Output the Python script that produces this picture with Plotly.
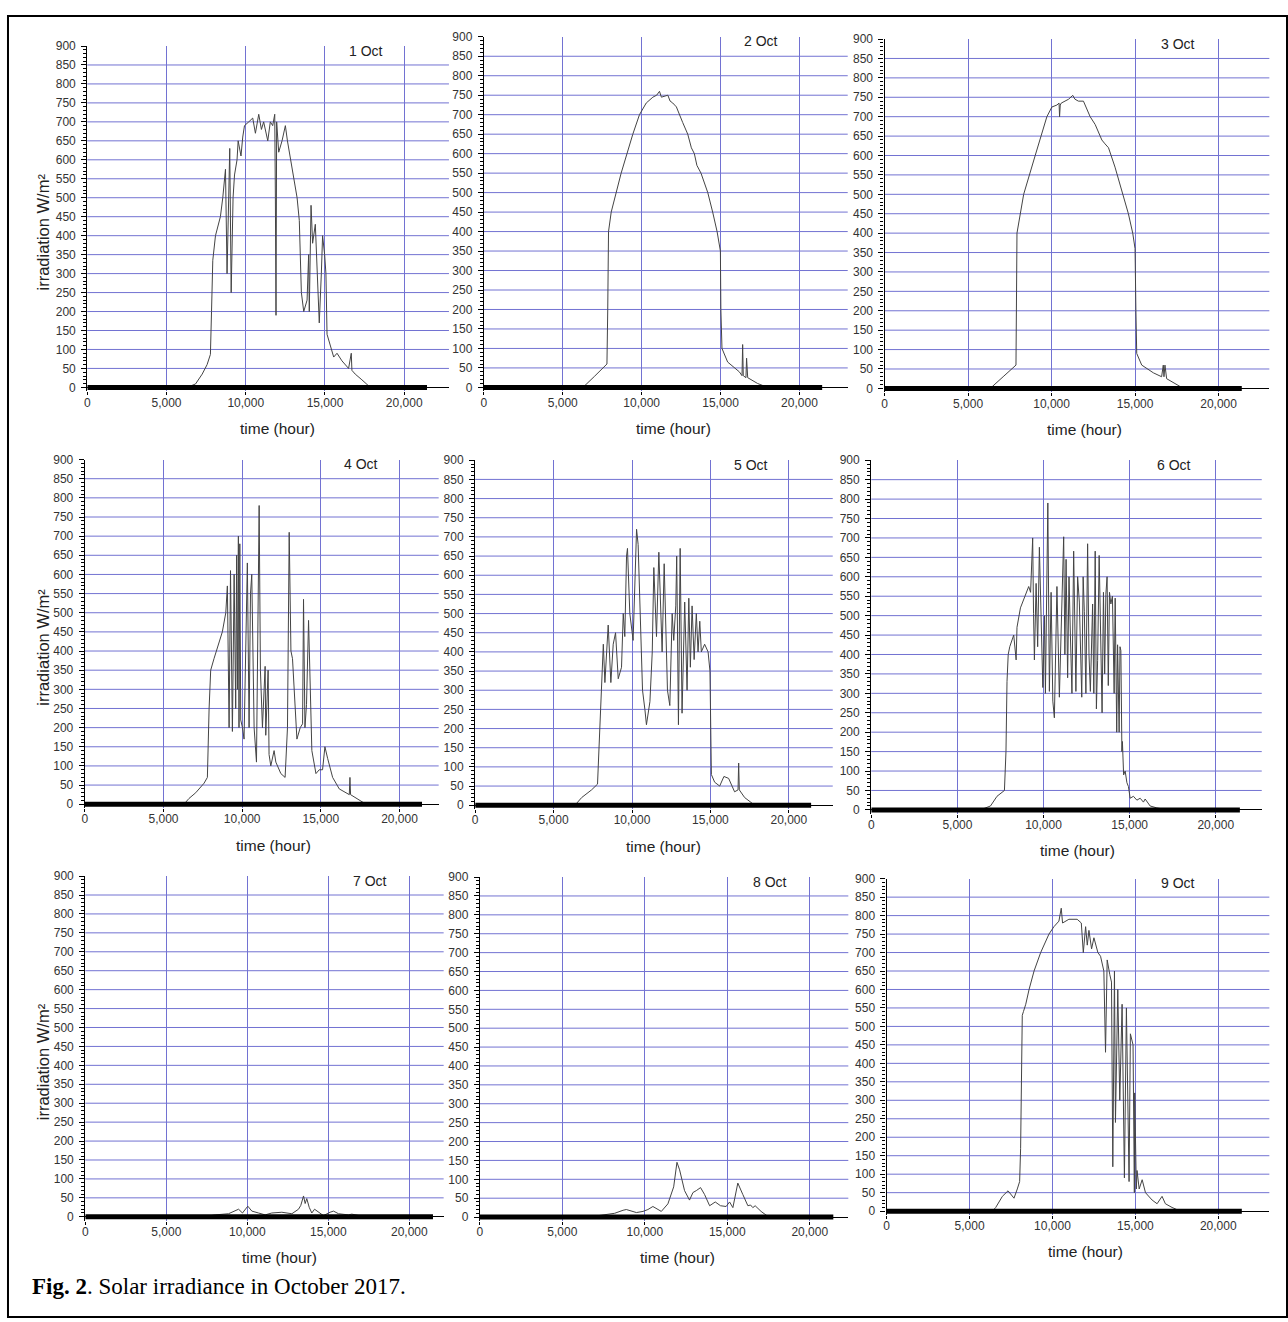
import plotly.graph_objects as go

W, H = 1288, 1322

# ---------------- data ----------------
days = ["1 Oct", "2 Oct", "3 Oct", "4 Oct", "5 Oct", "6 Oct", "7 Oct", "8 Oct", "9 Oct"]

t1 = [0, 6300, 6830, 7250, 7560, 7770, 7840, 7920, 8090, 8400, 8550, 8720, 8820, 8990, 9080, 9200, 9290, 9450, 9520, 9700,
      9810, 9920, 10190, 10440, 10610, 10820, 10990, 11130, 11390, 11550, 11700, 11830, 11870, 11910, 11950, 12080, 12290, 12500, 12630, 12840,
      13030, 13240, 13380, 13450, 13510, 13660, 13870, 13970, 14010, 14120, 14220, 14390, 14500, 14600, 14640, 14770, 14850, 14980, 15060, 15130,
      15340, 15550, 15760, 16070, 16490, 16660, 16700, 16910, 17330, 17860]
v1 = [0, 0, 9, 35, 60, 87, 200, 335, 400, 450, 500, 575, 300, 630, 250, 500, 560, 600, 650, 610,
      660, 690, 700, 710, 670, 720, 680, 700, 650, 700, 690, 720, 500, 190, 700, 620, 650, 690, 650, 600,
      550, 500, 440, 350, 250, 200, 230, 350, 200, 480, 380, 430, 300, 200, 170, 300, 400, 350, 300, 140,
      110, 80, 90, 70, 50, 90, 45, 35, 20, 0]

t2 = [0, 6280, 7000, 7800, 7850, 7900, 8070, 8700, 9440, 9860, 10290, 10710, 10950, 11130, 11250, 11450, 11660, 11800, 11970, 12200,
      12390, 12600, 12920, 13150, 13340, 13500, 13760, 14190, 14500, 14780, 14990, 15020, 15090, 15450, 16190, 16360, 16400, 16440, 16610, 16650,
      16720, 17350, 17980]
v2 = [0, 0, 28, 60, 200, 400, 450, 550, 650, 700, 730, 745, 750, 760, 745, 748, 750, 735, 730, 720,
      700, 680, 650, 615, 600, 570, 550, 500, 450, 400, 350, 200, 100, 65, 40, 30, 110, 30, 25, 75,
      25, 10, 0]

t3 = [0, 6330, 7100, 7870, 7930, 8330, 9020, 9720, 10020, 10320, 10450, 10480, 10520, 10580, 11020, 11270, 11400, 11610, 11910, 12100,
      12310, 12610, 12800, 13010, 13200, 13410, 13800, 14140, 14600, 14860, 15000, 15050, 15100, 15400, 16100, 16590, 16690, 16730, 16790, 16890,
      17890]
v3 = [0, 0, 30, 60, 400, 500, 600, 700, 725, 730, 735, 700, 730, 735, 745, 755, 745, 740, 740, 720,
      700, 680, 660, 640, 630, 620, 570, 520, 450, 400, 360, 200, 90, 60, 40, 30, 60, 30, 60, 25,
      0]

t4 = [0, 6300, 6620, 7050, 7580, 7790, 7900, 8000, 8210, 8530, 8740, 8960, 9060, 9170, 9260, 9380, 9490, 9590, 9650, 9700,
      9760, 9800, 9850, 9910, 10020, 10120, 10230, 10330, 10440, 10530, 10610, 10760, 10910, 11080, 11160, 11290, 11460, 11500, 11650, 11710,
      11820, 12030, 12140, 12460, 12730, 12880, 12990, 13100, 13200, 13310, 13480, 13690, 13840, 13900, 13990, 14090, 14220, 14300, 14430, 14690,
      14900, 15110, 15260, 15430, 15750, 16170, 16810, 16850, 16890, 17870]
v4 = [0, 0, 15, 30, 55, 70, 250, 350, 380, 420, 450, 500, 570, 200, 610, 190, 600, 250, 650, 300,
      700, 200, 680, 220, 200, 170, 400, 630, 200, 550, 600, 200, 110, 780, 350, 200, 360, 180, 350, 130,
      100, 140, 110, 80, 70, 200, 710, 400, 380, 300, 170, 200, 210, 535, 200, 260, 480, 350, 140, 80,
      90, 90, 150, 120, 70, 40, 25, 70, 25, 0]

t5 = [0, 6360, 6790, 7420, 7800, 7890, 8020, 8060, 8170, 8270, 8480, 8650, 8800, 8950, 9120, 9330, 9440, 9540, 9650, 9710,
      9860, 10070, 10290, 10390, 10670, 10820, 10920, 11140, 11290, 11390, 11560, 11710, 11840, 11920, 12050, 12260, 12410, 12560, 12660, 12790,
      12850, 12960, 13070, 13190, 13360, 13510, 13620, 13720, 13830, 13960, 14100, 14210, 14320, 14420, 14630, 14850, 14970, 15060, 15270, 15590,
      15860, 16160, 16540, 16760, 16800, 16840, 17180, 17820]
v5 = [0, 0, 20, 40, 55, 150, 250, 300, 420, 320, 470, 320, 420, 450, 330, 360, 500, 440, 650, 670,
      500, 430, 720, 680, 300, 250, 210, 270, 400, 620, 440, 660, 480, 400, 630, 300, 260, 500, 430, 520,
      650, 210, 670, 240, 530, 300, 540, 360, 520, 380, 500, 400, 480, 400, 420, 400, 350, 80, 60, 50,
      75, 70, 35, 40, 110, 40, 20, 0]

t6 = [0, 6340, 6920, 7300, 7730, 7820, 7880, 7950, 8040, 8270, 8410, 8460, 8660, 8850, 9140, 9250, 9370, 9420, 9470, 9570,
      9660, 9760, 9860, 9960, 10060, 10110, 10250, 10340, 10440, 10540, 10630, 10780, 10920, 11050, 11170, 11240, 11310, 11400, 11480, 11560,
      11650, 11750, 11880, 11980, 12080, 12220, 12300, 12370, 12460, 12560, 12640, 12720, 12850, 12920, 13000, 13070, 13140, 13230, 13330, 13400,
      13480, 13550, 13620, 13690, 13760, 13830, 13910, 14000, 14100, 14160, 14250, 14300, 14390, 14440, 14490, 14550, 14580, 14650, 14740, 14840,
      14930, 15030, 15220, 15420, 15610, 15800, 15900, 16190, 16580, 17250]
v6 = [0, 0, 10, 35, 50, 150, 330, 400, 420, 450, 386, 470, 520, 540, 575, 560, 700, 505, 386, 583,
      420, 676, 450, 315, 500, 300, 790, 305, 560, 280, 237, 575, 290, 500, 703, 400, 645, 340, 600, 450,
      300, 666, 305, 600, 535, 290, 600, 510, 300, 685, 400, 305, 530, 300, 666, 260, 385, 655, 460, 250,
      560, 350, 555, 600, 320, 560, 530, 550, 300, 545, 200, 425, 200, 420, 410, 150, 176, 90, 100, 70,
      60, 30, 35, 25, 30, 20, 28, 10, 5, 0]

t7 = [0, 7300, 8020, 8840, 9460, 9700, 10030, 10280, 10690, 11100, 11510, 12130, 12750, 13160, 13300, 13470, 13570, 13670, 13820, 13980,
      14150, 14490, 14700, 15110, 15320, 15630, 16240, 16450, 17060, 17270]
v7 = [0, 0, 5, 8, 20, 10, 28, 15, 10, 5, 10, 12, 8, 20, 30, 55, 35, 48, 25, 10,
      20, 10, 3, 12, 15, 8, 5, 7, 2, 0]

t8 = [0, 6560, 7370, 7770, 8170, 8680, 8880, 9490, 9890, 10190, 10490, 11000, 11400, 11750, 11950, 12110, 12410, 12710, 12920, 13120,
      13380, 13620, 13930, 14270, 14590, 14930, 15140, 15340, 15440, 15640, 15940, 16250, 16410, 16550, 16690, 17050, 17360, 17660]
v8 = [0, 0, 5, 8, 10, 18, 20, 12, 15, 20, 28, 15, 35, 80, 145, 125, 70, 45, 65, 70,
      78, 60, 30, 40, 30, 28, 40, 25, 50, 90, 60, 30, 32, 25, 30, 15, 5, 0]

t9 = [0, 6380, 6580, 6980, 7320, 7480, 7680, 7880, 8020, 8080, 8120, 8180, 8250, 8390, 8590, 8890, 9290, 9790, 10090, 10390,
      10530, 10610, 10990, 11490, 11740, 11860, 12000, 12100, 12200, 12360, 12500, 12740, 12900, 13100, 13200, 13300, 13460, 13560, 13640, 13740,
      13800, 13940, 14060, 14200, 14340, 14460, 14620, 14700, 14860, 14940, 14960, 15060, 15100, 15230, 15410, 15610, 16010, 16310, 16610, 16810,
      17210, 17710]
v9 = [0, 0, 10, 40, 55, 45, 35, 60, 80, 170, 330, 530, 540, 560, 600, 650, 700, 750, 770, 785,
      820, 780, 790, 790, 780, 700, 770, 720, 760, 710, 740, 700, 690, 650, 430, 680, 640, 620, 120, 650,
      240, 600, 300, 560, 90, 550, 80, 480, 450, 50, 320, 60, 110, 60, 85, 50, 30, 20, 40, 20,
      10, 0]

times = [t1, t2, t3, t4, t5, t6, t7, t8, t9]
irradiance = [v1, v2, v3, v4, v5, v6, v7, v8, v9]
for _t, _v in zip(times, irradiance):
    assert len(_t) == len(_v), (len(_t), len(_v))

# end of the recorded (zero) night samples, and axis extents
night_end = [21440, 21440, 21390, 21430, 21420, 21400, 21460, 21430, 21420]
x_end = [22825, 23060, 23040, 22490, 22800, 22670, 22120, 22340, 23080]
x_ticks = [0, 5000, 10000, 15000, 20000]
y_top = 900
y_major = 50
y_minor_vals = [v for v in range(10, 900, 10) if v % 50]
grid_levels = list(range(50, 900, 50))

# ---------------- layout geometry (pixels) ----------------
# left, right, top (y=900), zero (y=0)
panels_px = [
    (84.5, 447.0, 39.3, 383.3),
    (482.0, 846.7, 30.0, 383.3),
    (883.6, 1269.3, 32.3, 384.3),
    (82.0, 436.7, 456.0, 803.3),
    (473.3, 831.7, 456.7, 804.3),
    (870.3, 1261.7, 456.7, 809.0),
    (82.5, 441.7, 875.7, 1219.0),
    (478.0, 847.3, 876.7, 1219.3),
    (885.7, 1269.3, 878.3, 1213.3),
]
y_pad = 10

GRID = "#7272d2"
CURVE = "#444444"
TXT = "#333333"
SANS = "Liberation Sans, Arial, sans-serif"
tickfont = dict(family=SANS, size=12, color=TXT)

fig = go.Figure()
layout = {}
shapes = []
annotations = []

for i in range(9):
    n = i + 1
    sfx = "" if n == 1 else str(n)
    xa, ya = f"x{sfx}", f"y{sfx}"
    left, right, top, zero = panels_px[i]
    scale = (zero - top) / y_top
    bottom = zero + y_pad * scale

    layout[f"xaxis{sfx}"] = dict(
        domain=[left / W, right / W], anchor=ya, range=[0, x_end[i]],
        tickvals=x_ticks, tickformat=",d", showgrid=True, gridcolor=GRID, gridwidth=1,
        zeroline=False, showline=False, ticks="outside", ticklen=3, tickcolor="black",
        tickfont=tickfont, ticklabelstandoff=-3, fixedrange=True,
    )
    layout[f"yaxis{sfx}"] = dict(
        domain=[1 - bottom / H, 1 - top / H], anchor=xa, range=[-y_pad, y_top],
        tick0=0, dtick=y_major, showgrid=False, zeroline=True, zerolinecolor="black",
        zerolinewidth=1, showline=True, linecolor="black", linewidth=1.3,
        ticks="outside", ticklen=5, tickcolor="black", tickwidth=1,
        minor=dict(tickvals=y_minor_vals, ticks="outside", ticklen=3, tickcolor="black", showgrid=False),
        tickfont=tickfont, ticklabelstandoff=3, fixedrange=True,
    )

    for g in grid_levels:
        shapes.append(dict(type="line", xref=f"{xa} domain", yref=ya, x0=0, x1=1, y0=g, y1=g,
                           line=dict(color=GRID, width=1), layer="below"))

    fig.add_trace(go.Scatter(x=times[i], y=irradiance[i], mode="lines",
                             line=dict(color=CURVE, width=1), xaxis=xa, yaxis=ya,
                             name=days[i], hoverinfo="x+y"))
    fig.add_trace(go.Scatter(x=[0, night_end[i]], y=[0, 0], mode="lines",
                             line=dict(color="black", width=5), xaxis=xa, yaxis=ya,
                             hoverinfo="skip", showlegend=False))

    annotations.append(dict(text=days[i], xref=xa, yref=ya, x=17570, y=888, showarrow=False,
                            xanchor="center", yanchor="middle",
                            font=dict(family=SANS, size=14, color="#222222")))
    annotations.append(dict(text="time (hour)", xref=xa, yref=f"{ya} domain", x=12000, y=0,
                            yshift=-37, showarrow=False, xanchor="center", yanchor="middle",
                            font=dict(family=SANS, size=15.5, color="#222222")))
    if i % 3 == 0:
        annotations.append(dict(text="irradiation W/m²", xref="paper", yref=f"{ya} domain",
                                x=40 / W, y=0.5, yshift=-13, textangle=-90, showarrow=False,
                                xanchor="center", yanchor="middle",
                                font=dict(family=SANS, size=16.5, color="#222222")))

# caption
annotations.append(dict(text="<b>Fig. 2</b>. Solar irradiance in October 2017.", xref="paper", yref="paper",
                        x=27 / W, y=1 - 1289 / H, xanchor="left", yanchor="middle", showarrow=False,
                        font=dict(family="Liberation Serif, Times New Roman, serif", size=23, color="black")))

# outer frame
shapes.append(dict(type="rect", xref="paper", yref="paper", x0=5 / W, x1=1287 / W,
                   y0=1 - 1320 / H, y1=1 - 9 / H, line=dict(color="black", width=2),
                   fillcolor="rgba(0,0,0,0)", layer="above"))

fig.update_layout(
    width=W, height=H, margin=dict(l=0, r=0, t=0, b=0, pad=0),
    paper_bgcolor="white", plot_bgcolor="rgba(0,0,0,0)",
    showlegend=False, shapes=shapes, annotations=annotations,
    **layout,
)

fig.write_html("out.html")
